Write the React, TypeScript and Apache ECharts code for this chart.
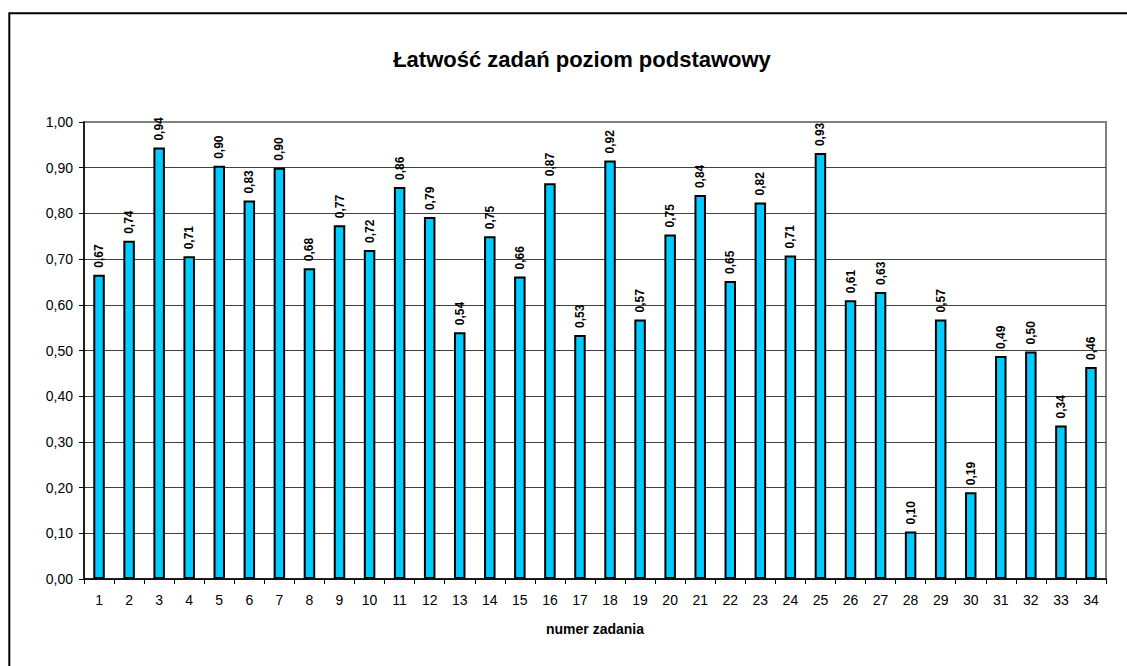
import React, { useEffect, useRef } from "react";
import * as echarts from "echarts";

const categories: string[] = [
  "1", "2", "3", "4", "5", "6", "7", "8", "9", "10", "11", "12", "13", "14", "15", "16", "17",
  "18", "19", "20", "21", "22", "23", "24", "25", "26", "27", "28", "29", "30", "31", "32", "33", "34",
];

const values: number[] = [
  0.666, 0.74, 0.944, 0.706, 0.904, 0.828, 0.9, 0.68, 0.774, 0.72, 0.858, 0.792, 0.54, 0.75, 0.662,
  0.866, 0.534, 0.916, 0.568, 0.754, 0.84, 0.652, 0.824, 0.708, 0.932, 0.61, 0.628, 0.104, 0.568,
  0.19, 0.488, 0.498, 0.336, 0.464,
];

const yTicks: number[] = [0, 0.1, 0.2, 0.3, 0.4, 0.5, 0.6, 0.7, 0.8, 0.9, 1.0];

const fmt = (v: number) => v.toFixed(2).replace(".", ",");

export default function App() {
  const ref = useRef<HTMLDivElement>(null);
  useEffect(() => {
    if (!ref.current) return;
    const chart = echarts.init(ref.current, undefined, { renderer: "svg" });
    const font = "Liberation Sans, Arial, sans-serif";
    const splitColors = yTicks.map((t, i) => (i === yTicks.length - 1 ? "#808080" : "#404040"));
    chart.setOption({
      animation: false,
      backgroundColor: "#ffffff",
      title: {
        text: "Łatwość zadań poziom podstawowy",
        left: 577,
        top: 43,
        textAlign: "center",
        textStyle: { fontFamily: font, fontSize: 22, fontWeight: "bold", color: "#000" },
      },
      grid: {
        left: 84,
        top: 122,
        right: 21,
        bottom: 87,
        show: true,
        borderColor: "#808080",
        borderWidth: 2,
        containLabel: false,
      },
      xAxis: {
        type: "category",
        data: categories,
        name: "numer zadania",
        nameLocation: "middle",
        nameGap: 43,
        nameTextStyle: { fontFamily: font, fontSize: 14, fontWeight: "bold", color: "#000" },
        axisLine: { lineStyle: { color: "#000", width: 1.5 } },
        axisTick: { show: true, length: 5, lineStyle: { color: "#000" } },
        axisLabel: { fontFamily: font, fontSize: 14, color: "#000", margin: 14, interval: 0 },
      },
      yAxis: {
        type: "value",
        min: 0,
        max: 1,
        interval: 0.1,
        axisLine: { show: true, lineStyle: { color: "#000", width: 1.5 } },
        axisTick: { show: true, length: 5, lineStyle: { color: "#000" } },
        axisLabel: {
          fontFamily: font,
          fontSize: 14,
          color: "#000",
          margin: 11,
          formatter: (v: number) => fmt(v),
        },
        splitLine: { show: true, lineStyle: { color: splitColors, width: 1 } },
      },
      series: [
        {
          type: "bar",
          data: values,
          barWidth: 11.5,
          itemStyle: { color: "#00CCFF", borderColor: "#000", borderWidth: 2 },
          label: {
            show: true,
            position: "top",
            rotate: 90,
            align: "left",
            verticalAlign: "middle",
            distance: 7,
            fontFamily: font,
            fontSize: 12,
            fontWeight: "bold",
            color: "#000",
            formatter: (p: any) => fmt(p.value),
          },
        },
      ],
      graphic: [
        {
          type: "polyline",
          shape: { points: [[9.3, 900], [9.3, 13.3], [1500, 13.3]] },
          style: { fill: "none", stroke: "#000", lineWidth: 2 },
          silent: true,
          z: 100,
        },
      ],
    });
    return () => chart.dispose();
  }, []);
  return (
    <div
      ref={ref}
      style={{ position: "absolute", left: 0, top: 0, width: 1127, height: 666 }}
    />
  );
}
